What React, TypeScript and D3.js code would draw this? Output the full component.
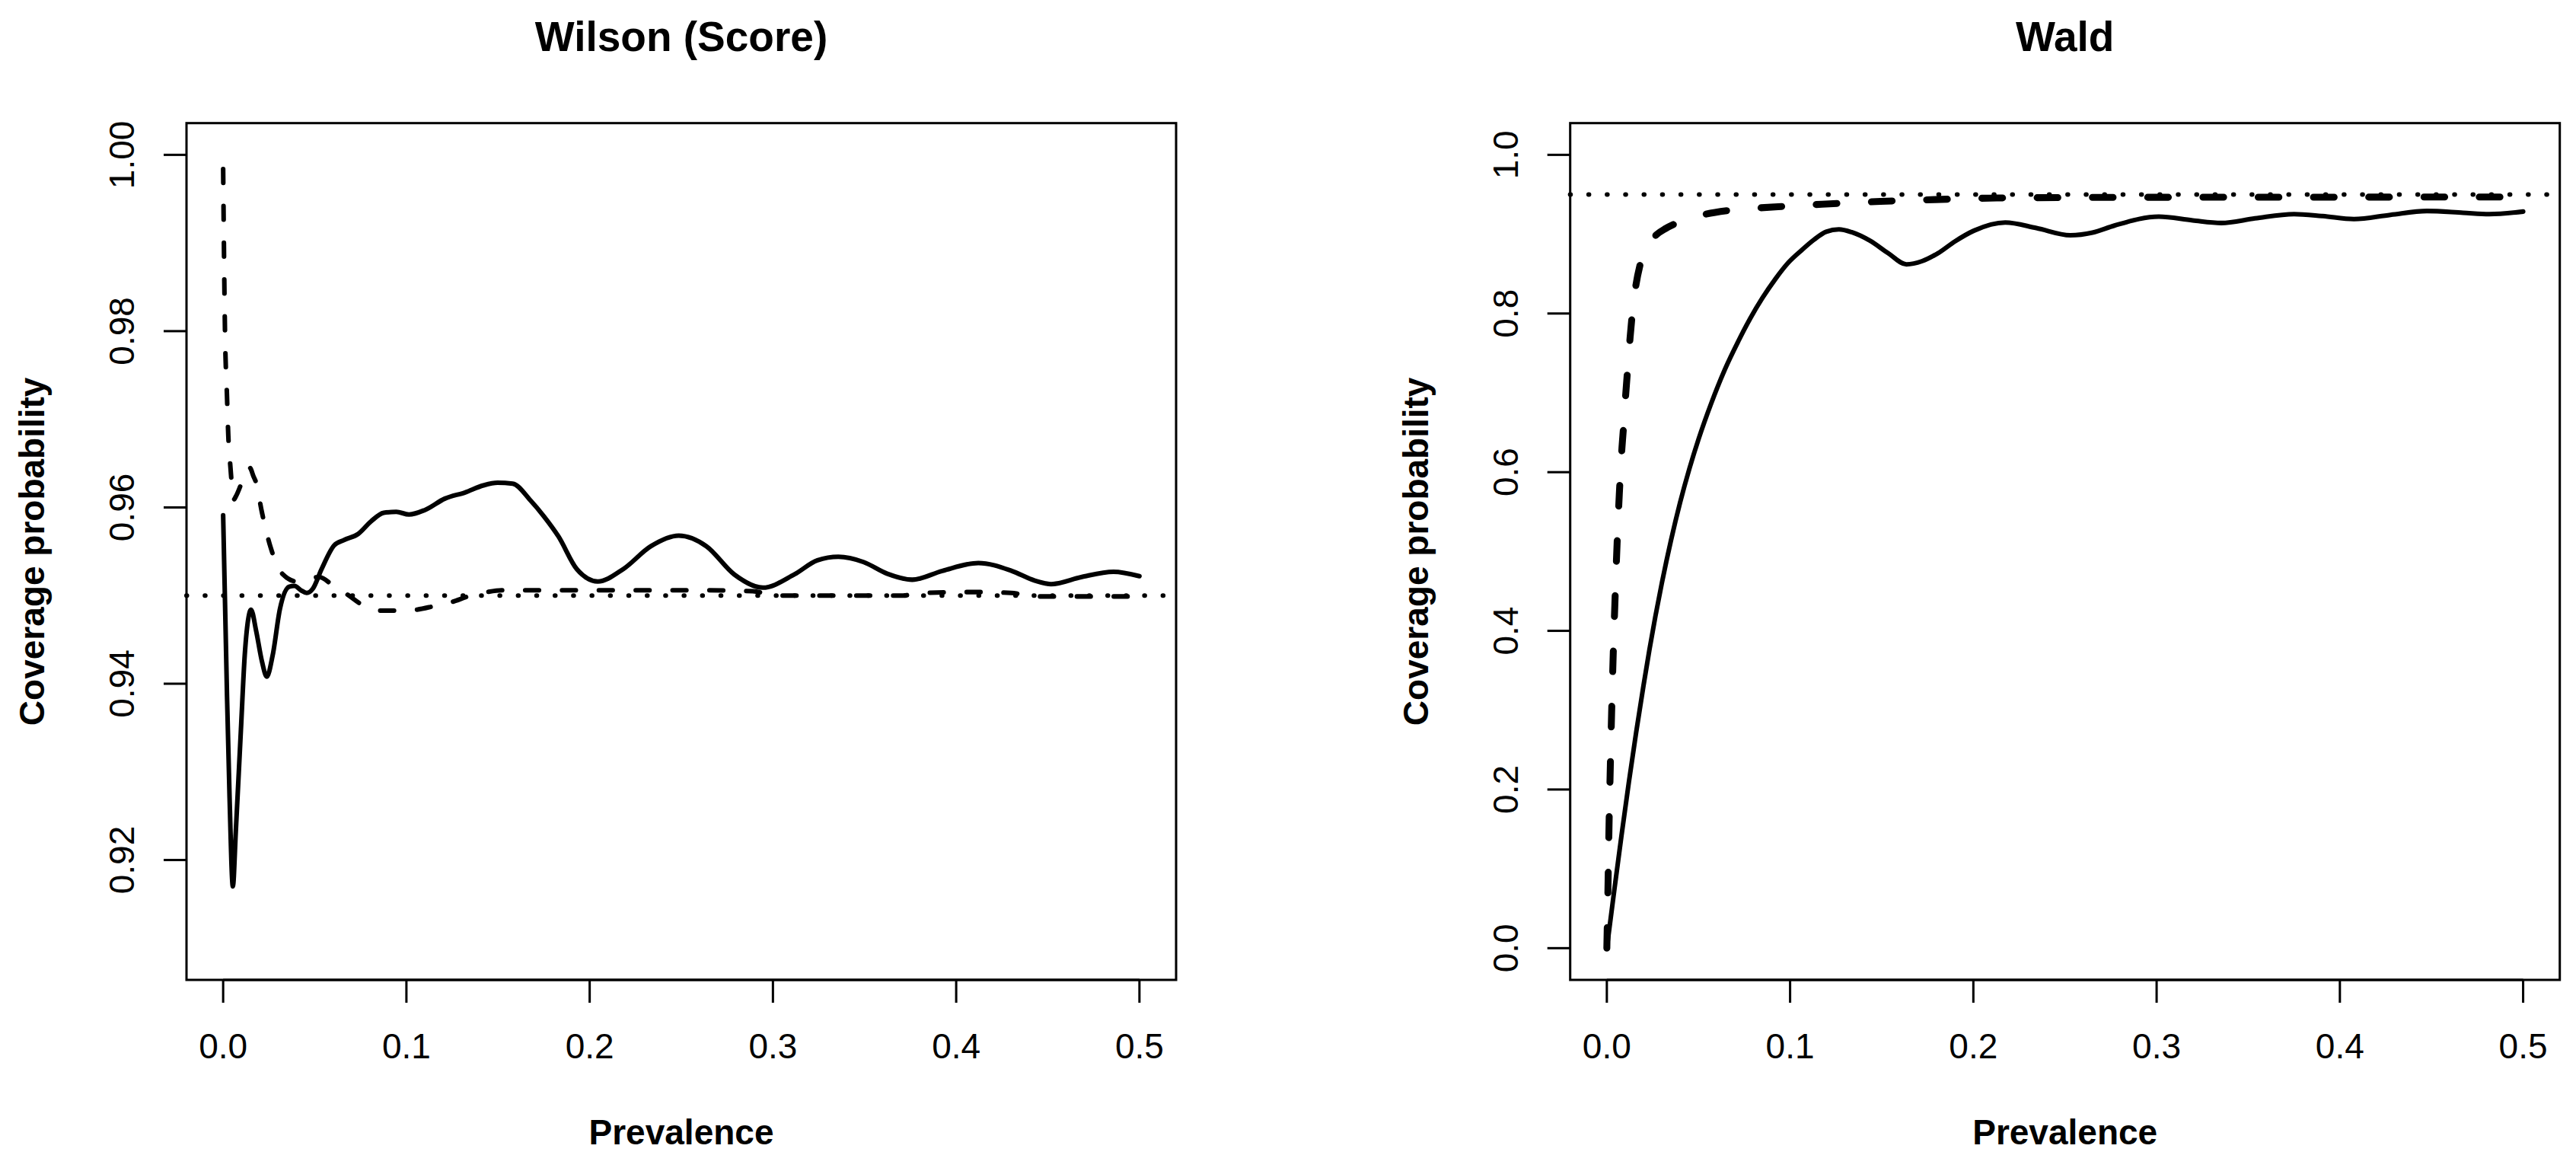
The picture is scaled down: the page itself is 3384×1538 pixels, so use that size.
import { useEffect } from 'react';
import * as d3 from 'd3';

// Wilson (Score) panel
const wilsonSolidP = [0, 0.0021, 0.0035, 0.0053, 0.0069, 0.0097, 0.0118, 0.0139, 0.0152, 0.018, 0.0212, 0.0238, 0.027, 0.031, 0.036, 0.0389, 0.0425, 0.0456, 0.049, 0.0537, 0.0606, 0.066, 0.0737, 0.0806, 0.0876, 0.0945, 0.1014, 0.11, 0.121, 0.132, 0.142, 0.1497, 0.158, 0.1677, 0.175, 0.183, 0.193, 0.2044, 0.2183, 0.2334, 0.2486, 0.2637, 0.2789, 0.2945, 0.3117, 0.3243, 0.3357, 0.3495, 0.3622, 0.376, 0.3924, 0.4121, 0.4303, 0.4429, 0.4518, 0.4682, 0.4858, 0.5];
const wilsonSolidCov = [0.9591, 0.9387, 0.9271, 0.917, 0.9232, 0.9348, 0.9433, 0.9476, 0.9484, 0.946, 0.9425, 0.9408, 0.9432, 0.9485, 0.951, 0.9511, 0.9506, 0.9503, 0.9508, 0.953, 0.9557, 0.9563, 0.957, 0.9584, 0.9594, 0.9595, 0.9592, 0.9597, 0.961, 0.9617, 0.9625, 0.9628, 0.9627, 0.9608, 0.959, 0.9567, 0.953, 0.9516, 0.953, 0.9556, 0.9568, 0.9556, 0.9524, 0.9509, 0.9524, 0.954, 0.9544, 0.9538, 0.9525, 0.9518, 0.9528, 0.9537, 0.9528, 0.9517, 0.9513, 0.9521, 0.9527, 0.9522];
const wilsonDashP = [0, 0.001, 0.0021, 0.0028, 0.004, 0.005, 0.0058, 0.0068, 0.0097, 0.0125, 0.0145, 0.0166, 0.018, 0.0211, 0.026, 0.0326, 0.0402, 0.046, 0.0526, 0.0596, 0.0679, 0.0755, 0.0859, 0.0949, 0.1053, 0.115, 0.1253, 0.1336, 0.144, 0.152, 0.17, 0.2, 0.23, 0.26, 0.289, 0.3015, 0.33, 0.3696, 0.3823, 0.41, 0.43, 0.443, 0.47, 0.5];
const wilsonDashCov = [0.9984, 0.98, 0.9726, 0.9682, 0.9645, 0.962, 0.9609, 0.9612, 0.9626, 0.9643, 0.9645, 0.9635, 0.9628, 0.9595, 0.9554, 0.9524, 0.9516, 0.9519, 0.9521, 0.9512, 0.9501, 0.949, 0.9483, 0.9483, 0.9484, 0.9488, 0.9493, 0.9499, 0.9504, 0.9506, 0.9506, 0.9506, 0.9506, 0.9506, 0.9505, 0.95, 0.95, 0.95, 0.9503, 0.9504, 0.9503, 0.9499, 0.9499, 0.9499];
const wilsonYTicks = [0.92, 0.94, 0.96, 0.98, 1.0];

// Wald panel
const waldSolidP = [0, 0.004, 0.008, 0.012, 0.016, 0.02, 0.0233, 0.03, 0.035, 0.04, 0.045, 0.0501, 0.057, 0.0645, 0.0715, 0.0783, 0.085, 0.092, 0.099, 0.1059, 0.113, 0.1197, 0.1266, 0.1336, 0.1436, 0.1535, 0.1635, 0.172, 0.1805, 0.19, 0.2004, 0.2174, 0.2344, 0.2529, 0.265, 0.277, 0.3012, 0.3197, 0.3353, 0.3537, 0.375, 0.3906, 0.4077, 0.4276, 0.4475, 0.4673, 0.4815, 0.5];
const waldSolidCov = [0, 0.072, 0.142, 0.209, 0.272, 0.331, 0.377, 0.46, 0.514, 0.562, 0.604, 0.642, 0.687, 0.73, 0.764, 0.794, 0.82, 0.8436, 0.864, 0.879, 0.893, 0.903, 0.906, 0.9025, 0.8917, 0.876, 0.862, 0.866, 0.8757, 0.891, 0.9045, 0.9147, 0.9077, 0.8987, 0.902, 0.9109, 0.9221, 0.9173, 0.9141, 0.9199, 0.9253, 0.9228, 0.919, 0.9244, 0.9292, 0.927, 0.9253, 0.9285];
const waldDashP = [0, 0.0007, 0.0012, 0.0019, 0.0026, 0.0034, 0.0044, 0.0056, 0.0068, 0.0082, 0.0092, 0.0102, 0.0117, 0.0127, 0.0155, 0.0182, 0.022, 0.0272, 0.032, 0.0376, 0.0534, 0.0665, 0.0824, 0.0962, 0.1194, 0.1493, 0.1791, 0.2089, 0.25, 0.3, 0.35, 0.4, 0.45, 0.5];
const waldDashCov = [0, 0.087, 0.155, 0.229, 0.296, 0.364, 0.435, 0.51, 0.572, 0.629, 0.66, 0.695, 0.74, 0.77, 0.83, 0.862, 0.885, 0.8996, 0.907, 0.9135, 0.925, 0.93, 0.933, 0.935, 0.938, 0.9413, 0.9436, 0.9455, 0.9462, 0.9465, 0.9466, 0.9467, 0.9468, 0.9468];
const waldYTicks = [0, 0.2, 0.4, 0.6, 0.8, 1.0];

const xTicks = [0, 0.1, 0.2, 0.3, 0.4, 0.5];
const nominal = 0.95;

const FONT = '"Liberation Sans", Arial, Helvetica, sans-serif';
const U = 3.025; // one R lwd unit in pixels
const TOP = 161.7;
const BOTTOM = 1287;
const BOX_W = 1300;

type PanelProps = {
  title: string;
  left: number;
  yDomain: [number, number];
  yTicks: number[];
  yDigits: number;
  solid: [number, number][];
  dashed: [number, number][];
  dashLwd: number;
};

function CoveragePanel({ title, left, yDomain, yTicks, yDigits, solid, dashed, dashLwd }: PanelProps) {
  const x = d3.scaleLinear().domain([-0.02, 0.52]).range([left, left + BOX_W]);
  const y = d3.scaleLinear().domain(yDomain).range([BOTTOM, TOP]);
  const line = d3
    .line<[number, number]>()
    .x((d) => x(d[0]))
    .y((d) => y(d[1]))
    .curve(d3.curveMonotoneX);
  const cx = left + BOX_W / 2;
  const midY = (TOP + BOTTOM) / 2;
  const dashOn = 4 * dashLwd * U;

  return (
    <g>
      <text x={cx} y={67} textAnchor="middle" fontFamily={FONT} fontWeight="bold" fontSize={55}>
        {title}
      </text>

      <path d={line(solid)!} fill="none" stroke="#000" strokeWidth={2 * U} strokeLinecap="round" strokeLinejoin="round" />
      <path
        d={line(dashed)!}
        fill="none"
        stroke="#000"
        strokeWidth={dashLwd * U}
        strokeLinecap="round"
        strokeLinejoin="round"
        strokeDasharray={`${dashOn - dashLwd * U} ${dashOn + dashLwd * U}`}
      />
      <line
        x1={left}
        x2={left + BOX_W}
        y1={y(nominal)}
        y2={y(nominal)}
        stroke="#000"
        strokeWidth={2 * U}
        strokeLinecap="round"
        strokeDasharray={`0.5 ${8 * U - 0.5}`}
      />

      <rect x={left} y={TOP} width={BOX_W} height={BOTTOM - TOP} fill="none" stroke="#000" strokeWidth={U} />

      {xTicks.map((t) => (
        <g key={'x' + t}>
          <line x1={x(t)} x2={x(t)} y1={BOTTOM} y2={BOTTOM + 30} stroke="#000" strokeWidth={U} />
          <text x={x(t)} y={1390} textAnchor="middle" fontFamily={FONT} fontSize={46}>
            {t.toFixed(1)}
          </text>
        </g>
      ))}
      <line x1={x(0)} x2={x(0.5)} y1={BOTTOM} y2={BOTTOM} stroke="#000" strokeWidth={U} />

      {yTicks.map((t) => (
        <g key={'y' + t}>
          <line x1={left - 30} x2={left} y1={y(t)} y2={y(t)} stroke="#000" strokeWidth={U} />
          <text
            transform={`translate(${left - 69},${y(t)}) rotate(-90)`}
            textAnchor="middle"
            fontFamily={FONT}
            fontSize={46}
          >
            {t.toFixed(yDigits)}
          </text>
        </g>
      ))}

      <text x={cx} y={1503} textAnchor="middle" fontFamily={FONT} fontWeight="bold" fontSize={46}>
        Prevalence
      </text>
      <text
        transform={`translate(${left - 187},${midY}) rotate(-90)`}
        textAnchor="middle"
        fontFamily={FONT}
        fontWeight="bold"
        fontSize={46}
      >
        Coverage probability
      </text>
    </g>
  );
}

export default function App() {
  useEffect(() => {
    document.body.style.margin = '0';
    document.body.style.overflow = 'hidden';
  }, []);

  const wilsonSolid = d3.zip(wilsonSolidP, wilsonSolidCov) as [number, number][];
  const wilsonDashed = d3.zip(wilsonDashP, wilsonDashCov) as [number, number][];
  const waldSolid = d3.zip(waldSolidP, waldSolidCov) as [number, number][];
  const waldDashed = d3.zip(waldDashP, waldDashCov) as [number, number][];

  return (
    <svg width={3384} height={1538} style={{ display: 'block', background: '#fff' }}>
      <rect width={3384} height={1538} fill="#fff" />
      <CoveragePanel
        title="Wilson (Score)"
        left={245}
        yDomain={[0.9064, 1.0036]}
        yTicks={wilsonYTicks}
        yDigits={2}
        solid={wilsonSolid}
        dashed={wilsonDashed}
        dashLwd={2}
      />
      <CoveragePanel
        title="Wald"
        left={2062.7}
        yDomain={[-0.04, 1.04]}
        yTicks={waldYTicks}
        yDigits={1}
        solid={waldSolid}
        dashed={waldDashed}
        dashLwd={3}
      />
    </svg>
  );
}
